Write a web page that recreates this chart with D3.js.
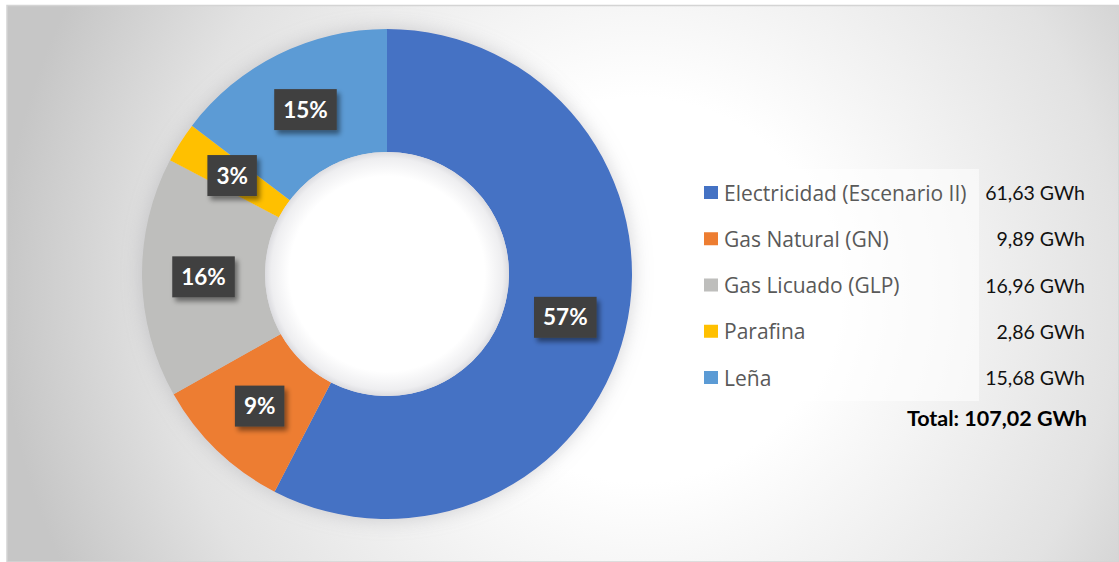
<!DOCTYPE html>
<html><head><meta charset="utf-8">
<script src="https://cdn.jsdelivr.net/npm/d3@7/dist/d3.min.js"></script>
<style>html,body{margin:0;padding:0;background:#fff;}svg{display:block;}</style>
</head><body>
<svg id="chart" width="1119" height="562"></svg>
<script>
const categories = ["Electricidad (Escenario II)", "Gas Natural (GN)", "Gas Licuado (GLP)", "Parafina", "Leña"];
const values = [61.63, 9.89, 16.96, 2.86, 15.68];
const valueLabels = ["61,63 GWh", "9,89 GWh", "16,96 GWh", "2,86 GWh", "15,68 GWh"];
const percentLabels = ["57%", "9%", "16%", "3%", "15%"];
const totalLabel = "Total: 107,02 GWh";
const colors = ["#4472C4", "#ED7D31", "#BEBEBC", "#FFC000", "#5B9BD5"];

const svg = d3.select("#chart");
const W = 1119, H = 562;
const defs = svg.append("defs");

const bg = defs.append("radialGradient").attr("id","bgGrad")
  .attr("gradientUnits","userSpaceOnUse").attr("cx",640).attr("cy",290).attr("r",640);
bg.append("stop").attr("offset","0").attr("stop-color","#ffffff");
bg.append("stop").attr("offset","0.3").attr("stop-color","#ffffff");
bg.append("stop").attr("offset","0.75").attr("stop-color","#e2e2e2");
bg.append("stop").attr("offset","1").attr("stop-color","#c6c6c6");

const hg = defs.append("radialGradient").attr("id","holeGrad")
  .attr("cx","0.5").attr("cy","0.5").attr("r","0.5");
hg.append("stop").attr("offset","0").attr("stop-color","#ffffff");
hg.append("stop").attr("offset","0.8").attr("stop-color","#ffffff");
hg.append("stop").attr("offset","0.95").attr("stop-color","#eeeef0");
hg.append("stop").attr("offset","1").attr("stop-color","#dcdce0");

const f = defs.append("filter").attr("id","donutShadow").attr("x","-20%").attr("y","-20%").attr("width","140%").attr("height","140%");
f.append("feGaussianBlur").attr("in","SourceAlpha").attr("stdDeviation",10).attr("result","b");
f.append("feFlood").attr("flood-color","#9a9aa0").attr("flood-opacity",0.45);
f.append("feComposite").attr("in2","b").attr("operator","in").attr("result","s");
const fm = f.append("feMerge");
fm.append("feMergeNode").attr("in","s");
fm.append("feMergeNode").attr("in","SourceGraphic");

const lf = defs.append("filter").attr("id","boxShadow").attr("x","-30%").attr("y","-30%").attr("width","170%").attr("height","170%");
lf.append("feGaussianBlur").attr("in","SourceAlpha").attr("stdDeviation",2.5).attr("result","b");
lf.append("feOffset").attr("in","b").attr("dx",3).attr("dy",4).attr("result","o");
lf.append("feFlood").attr("flood-color","#000").attr("flood-opacity",0.45);
lf.append("feComposite").attr("in2","o").attr("operator","in").attr("result","s");
const lm = lf.append("feMerge");
lm.append("feMergeNode").attr("in","s");
lm.append("feMergeNode").attr("in","SourceGraphic");

svg.append("rect").attr("x",7).attr("y",5.5).attr("width",W-7).attr("height",H-5.5)
  .attr("fill","url(#bgGrad)").attr("stroke","#d4d4d4").attr("stroke-width",1.5);

const cx = 387, cy = 274, rOuter = 245, rInner = 122;
const pie = d3.pie().sort(null).value(d => d);
const arcs = pie(values);
const arc = d3.arc().innerRadius(rInner).outerRadius(rOuter);
const labelArc = d3.arc().innerRadius((rInner+rOuter)/2).outerRadius((rInner+rOuter)/2);

const g = svg.append("g").attr("transform",`translate(${cx},${cy})`);
g.append("g").attr("filter","url(#donutShadow)")
  .selectAll("path").data(arcs).join("path")
  .attr("d",arc).attr("fill",(d,i)=>colors[i]);

g.append("circle").attr("r",rInner).attr("fill","url(#holeGrad)");

const lab = g.selectAll("g.lab").data(arcs).join("g").attr("class","lab")
  .attr("transform",d=>{const c=labelArc.centroid(d);return `translate(${c[0]},${c[1]})`;});
lab.each(function(d,i){
  const s = d3.select(this);
  const box = s.append("rect").attr("fill","#404040").attr("filter","url(#boxShadow)");
  const t = s.append("text").text(percentLabels[i])
    .attr("text-anchor","middle").attr("dy","0.36em")
    .attr("font-family","Lato, 'Open Sans', sans-serif").attr("font-weight","bold")
    .attr("font-size",22.5).attr("fill","#ffffff");
  const w = t.node().getComputedTextLength() + 18;
  box.attr("x",-w/2).attr("y",-20.5).attr("width",w).attr("height",41);
});

const legX = 692, legY = 169, legW = 287, legH = 232;
svg.append("rect").attr("x",legX).attr("y",legY).attr("width",legW).attr("height",legH)
  .attr("fill","#ffffff").attr("opacity",0.55);
const rowY = d3.scalePoint().domain(d3.range(categories.length)).range([193,378]);
const leg = svg.append("g").selectAll("g").data(categories).join("g")
  .attr("transform",(d,i)=>`translate(0,${rowY(i)})`);
leg.append("rect").attr("x",704).attr("y",-7).attr("width",14).attr("height",13)
  .attr("fill",(d,i)=>colors[i]);
const names = leg.append("text").attr("x",724).attr("dy","0.36em").text(d=>d)
  .attr("font-family","'Open Sans', sans-serif").attr("font-size",18).attr("fill","#595959");
const w0 = names.nodes()[0].getComputedTextLength();
names.attr("font-size", Math.min(21, 18 * 243 / w0));
leg.append("text").attr("x",1085).attr("dy","0.36em").attr("text-anchor","end").text((d,i)=>valueLabels[i])
  .attr("font-family","Lato, 'Open Sans', sans-serif").attr("font-size",19.5).attr("fill","#111111");
svg.append("text").attr("x",1087).attr("y",418).attr("dy","0.36em").attr("text-anchor","end")
  .text(totalLabel).attr("font-family","Lato, 'Open Sans', sans-serif").attr("font-weight","bold")
  .attr("font-size",21.5).attr("fill","#000000");
</script>
</body></html>
